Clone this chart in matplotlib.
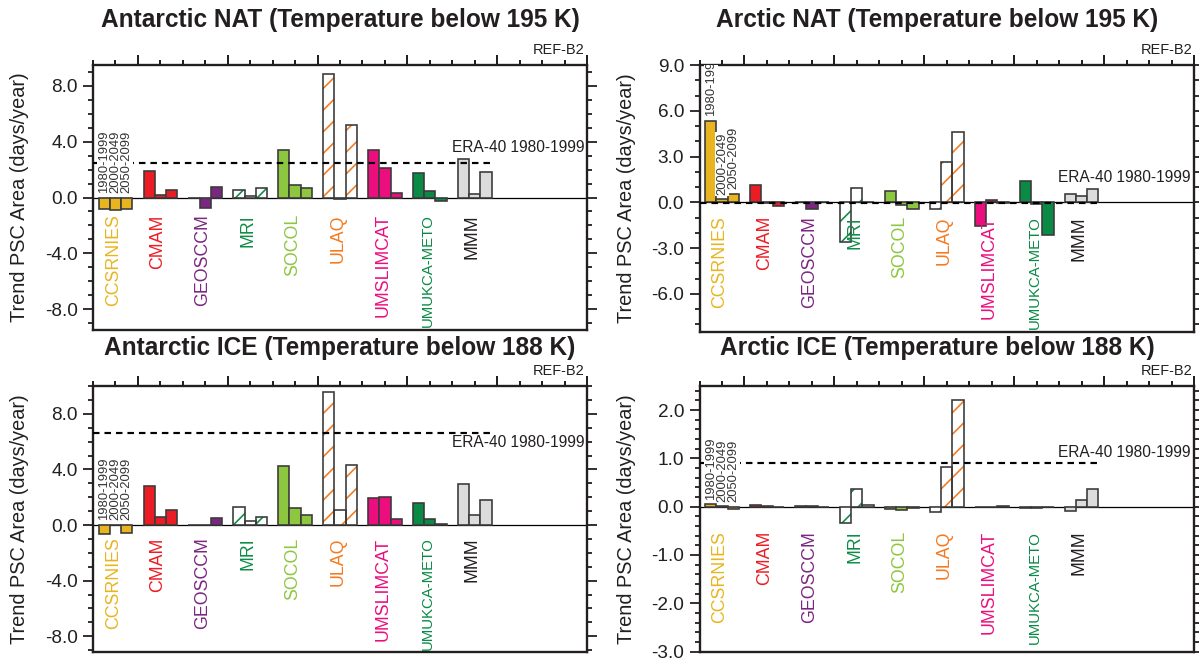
import numpy as np
import matplotlib
matplotlib.use("Agg")
import matplotlib.pyplot as plt
from matplotlib.ticker import MultipleLocator, FormatStrFormatter
from matplotlib.transforms import blended_transform_factory

plt.rcParams['font.family'] = ['Liberation Sans', 'DejaVu Sans']
plt.rcParams['axes.unicode_minus'] = False
plt.rcParams['hatch.linewidth'] = 0.9

models = ["CCSRNIES", "CMAM", "GEOSCCM", "MRI", "SOCOL", "ULAQ",
          "UMSLIMCAT", "UMUKCA-METO", "MMM"]
model_colors = ["#E8B520", "#EC1C24", "#7B2782", "#0E8C46", "#8DC63F",
                "#F47A20", "#EC0E7F", "#0A8A45", "#DCDCDC"]
label_colors = ["#E8B520", "#EC1C24", "#7B2782", "#0E8C46", "#8DC63F",
                "#F47A20", "#EC0E7F", "#0A8A45", "#231F20"]
hatched_models = ["MRI", "ULAQ"]
periods = ["1980-1999", "2000-2049", "2050-2099"]

# trend of PSC area (days/year), one row per model: 1980-1999, 2000-2049, 2050-2099
antarctic_nat = [
    [-0.80, -0.90, -0.80],
    [1.93, 0.21, 0.55],
    [0.0, -0.74, 0.75],
    [0.55, 0.14, 0.71],
    [3.38, 0.93, 0.69],
    [8.88, -0.14, 5.19],
    [3.43, 2.14, 0.31],
    [1.76, 0.50, -0.26],
    [2.76, 0.26, 1.83],
]
arctic_nat = [
    [5.35, 0.20, 0.57],
    [1.11, -0.05, -0.26],
    [0.0, -0.45, 0.0],
    [-2.60, 0.96, 0.0],
    [0.76, -0.20, -0.41],
    [-0.43, 2.61, 4.59],
    [-1.57, 0.15, -0.05],
    [1.37, -0.13, -2.13],
    [0.54, 0.39, 0.87],
]
antarctic_ice = [
    [-0.67, 0.0, -0.55],
    [2.81, 0.60, 1.08],
    [0.0, 0.02, 0.53],
    [1.27, 0.29, 0.58],
    [4.23, 1.23, 0.75],
    [9.57, 1.08, 4.30],
    [1.97, 2.00, 0.41],
    [1.59, 0.43, 0.07],
    [2.96, 0.72, 1.78],
]
arctic_ice = [
    [0.055, 0.007, -0.05],
    [0.025, 0.005, 0.0],
    [0.005, 0.005, 0.0],
    [-0.33, 0.36, 0.04],
    [-0.05, -0.07, -0.03],
    [-0.10, 0.83, 2.22],
    [0.0, -0.01, 0.005],
    [-0.03, -0.02, -0.005],
    [-0.08, 0.14, 0.37],
]
era40 = [2.5, -0.07, 6.6, 0.9]
titles = ["Antarctic NAT (Temperature below 195 K)",
          "Arctic NAT (Temperature below 195 K)",
          "Antarctic ICE (Temperature below 188 K)",
          "Arctic ICE (Temperature below 188 K)"]

W, H = 1199, 658
DPI = 130
TXT = "#231F20"
EDGE = "#3A3A3A"
bar_w = 0.25
bar_offsets = np.array([-0.25, 0.0, 0.25])


def px(v):
    # pixels -> points
    return v * 72.0 / DPI


def draw_panel(fig, box, values, era, title, ylim, major, minor,
               name_y, era_y, title_x, title_gap):
    left, top, right, bottom = box
    ax = fig.add_axes([left / W, 1 - bottom / H, (right - left) / W, (bottom - top) / H])
    vals = np.array(values)

    ax.axhline(0, color="black", lw=0.7, zorder=1)
    for i, name in enumerate(models):
        xs = i + bar_offsets
        if name in hatched_models:
            ax.bar(xs, vals[i], bar_w, color="white", edgecolor=model_colors[i],
                   hatch="//", linewidth=0, zorder=2)
            ax.bar(xs, vals[i], bar_w, fill=False, edgecolor=EDGE,
                   linewidth=0.9, zorder=3)
        else:
            ax.bar(xs, vals[i], bar_w, color=model_colors[i], edgecolor=EDGE,
                   linewidth=0.9, zorder=2)
        # the long name is squeezed in the original
        fs = 8.3 if len(name) > 10 else 9.8
        ax.text(i - 0.05, name_y, name, rotation=90, ha="center", va="top",
                color=label_colors[i], fontsize=fs, zorder=6)

    ax.plot([-0.5, 8.35], [era, era], color="black", lw=1.2,
            dashes=(3, 2.3), zorder=4)
    tr = blended_transform_factory(ax.transAxes, ax.transData)
    ax.text(1 - 3.0 / (right - left), era_y, "ERA-40 1980-1999", transform=tr,
            ha="right", va="center", fontsize=8.6, color=TXT, zorder=6)

    for j, p in enumerate(periods):
        ax.annotate(p, xy=(bar_offsets[j], max(vals[0][j], 0)),
                    xytext=(0, 2.5), textcoords="offset points",
                    rotation=90, ha="center", va="bottom", fontsize=7.2,
                    color="#333333", zorder=5, clip_on=True,
                    bbox=dict(facecolor="white", edgecolor="none", pad=0.4))

    ax.set_xlim(-0.5, 10.5)
    ax.set_ylim(*ylim)
    ax.xaxis.set_major_locator(MultipleLocator(2.0, offset=0.5))
    ax.xaxis.set_minor_locator(MultipleLocator(0.5))
    ax.yaxis.set_major_locator(MultipleLocator(major))
    ax.yaxis.set_minor_locator(MultipleLocator(minor))
    ax.yaxis.set_major_formatter(FormatStrFormatter("%.1f"))
    ax.tick_params(axis="x", which="both", direction="out", top=True, bottom=False,
                   labelbottom=False, labeltop=False, width=1.1, color=TXT)
    ax.tick_params(axis="y", which="both", direction="out", left=True, right=True,
                   width=1.0, color=TXT, labelsize=10.5, labelcolor=TXT, pad=3)
    ax.tick_params(which="major", length=px(10))
    ax.tick_params(which="minor", length=px(5))
    for s in ax.spines.values():
        s.set_linewidth(1.3)
        s.set_color(TXT)

    ax.text(-73.5 / (right - left), 0.5, "Trend PSC Area (days/year)",
            transform=ax.transAxes, rotation=90, ha="center", va="center",
            fontsize=11, color=TXT)
    ax.annotate("REF-B2", xy=(1, 1), xycoords="axes fraction",
                xytext=(px(-2), px(15)), textcoords="offset points",
                ha="right", va="center", fontsize=8, color=TXT)
    fig.text((left + title_x * (right - left)) / W, 1 - (top - title_gap) / H,
             title, ha="center", va="baseline", fontsize=13.6,
             fontweight="bold", color=TXT)
    return ax


fig = plt.figure(figsize=(W / DPI, H / DPI), dpi=DPI)

draw_panel(fig, (93, 65, 587, 330), antarctic_nat, era40[0], titles[0],
           (-9.5, 9.5), 4.0, 1.0, -1.2, 3.6, 0.5, 37.7)
draw_panel(fig, (699.5, 65, 1194, 332), arctic_nat, era40[1], titles[1],
           (-8.5, 9.0), 3.0, 1.0, -0.9, 1.65, 0.481, 37.7)
draw_panel(fig, (93, 386, 587, 651.5), antarctic_ice, era40[2], titles[2],
           (-9.1, 10.0), 4.0, 1.0, -0.9, 5.9, 0.5, 31)
draw_panel(fig, (699.5, 386, 1194, 651.5), arctic_ice, era40[3], titles[3],
           (-3.0, 2.5), 1.0, 0.2, -0.5, 1.13, 0.481, 31)

fig.savefig("out.png", dpi=DPI)
